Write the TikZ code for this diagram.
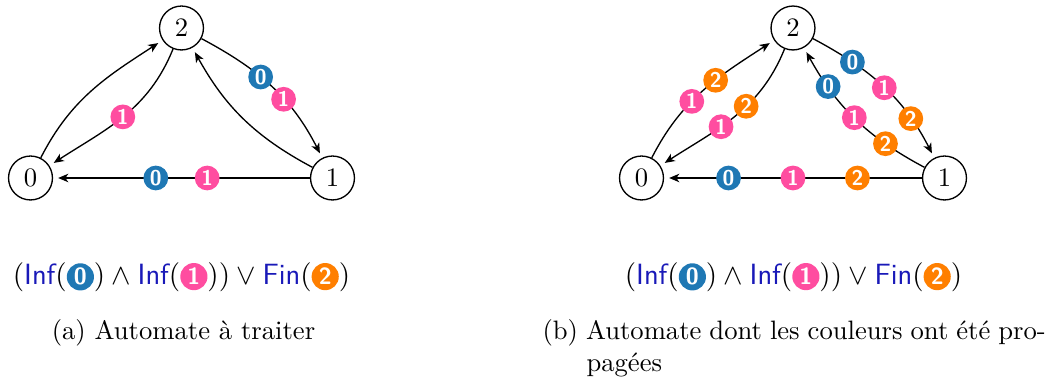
\documentclass[tikz,border=0pt]{standalone}
\usetikzlibrary{arrows.meta}
\definecolor{accblue}{HTML}{1F78B4}
\definecolor{accpink}{HTML}{FF4DA0}
\definecolor{accorange}{HTML}{FF7F00}
\definecolor{infblue}{rgb}{0.1,0.1,0.72}
\tikzset{
  state/.style={circle,draw,line width=0.5pt,minimum size=16.5pt,inner sep=0pt},
  accmark/.style={circle,inner sep=0pt,minimum size=9.3pt,text=white,font=\sffamily\bfseries\footnotesize},
  accform/.style={circle,inner sep=0pt,minimum size=10.2pt,text=white,font=\sffamily\bfseries\fontsize{8.8}{10}\selectfont},
  acczero/.style={accmark,fill=accblue},
  accone/.style={accmark,fill=accpink},
  acctwo/.style={accmark,fill=accorange},
  edge/.style={line width=0.5pt,-{Stealth[length=3.8pt,width=3.2pt,inset=1.1pt]},shorten >=1.9pt},
  formula/.style={anchor=base,inner sep=0pt,font=\fontsize{11}{13.6}\selectfont},
  captext/.style={inner sep=0pt},
}
\newcommand\accm[2]{\tikz[baseline=(m.base)]\node[accform,fill=#1](m){#2};}
\newcommand\infc[1]{\textcolor{infblue}{\textsf{#1}}}
\begin{document}
\begin{tikzpicture}[x=0.3755pt,y=-0.3755pt]
\useasboundingbox (0,0) rectangle (1050,383);
% left automaton
\node[state] (a0) at (30.5,178) {0};
\node[state] (a1) at (332.5,178) {1};
\node[state] (a2) at (181.5,28) {2};
\draw[edge] (a0) to[out=63,in=213] (a2);
\draw[edge] (a2) to[out=248,in=33] node[accone,pos=0.5]{1} (a0);
\draw[edge] (a2) to[out=332,in=117] node[acczero,pos=0.4]{0} node[accone,pos=0.6]{1} (a1);
\draw[edge] (a1) to[out=152,in=299] (a2);
\draw[edge] (a1) -- node[accone,pos=0.4]{1} node[acczero,pos=0.6]{0} (a0);
% right automaton
\node[state] (b0) at (641.5,178) {0};
\node[state] (b1) at (944.5,178) {1};
\node[state] (b2) at (793,28) {2};
\draw[edge] (b0) to[out=63,in=213] node[accone,pos=0.4]{1} node[acctwo,pos=0.6]{2} (b2);
\draw[edge] (b2) to[out=248,in=33] node[acctwo,pos=0.4]{2} node[accone,pos=0.6]{1} (b0);
\draw[edge] (b2) to[out=332,in=117] node[acczero,pos=0.25]{0} node[accone,pos=0.5]{1} node[acctwo,pos=0.75]{2} (b1);
\draw[edge] (b1) to[out=152,in=299] node[acctwo,pos=0.25]{2} node[accone,pos=0.5]{1} node[acczero,pos=0.75]{0} (b2);
\draw[edge] (b1) -- node[acctwo,pos=0.25]{2} node[accone,pos=0.5]{1} node[acczero,pos=0.75]{0} (b0);
% formulas
\node[formula] (fa) at (181.5,285) {$(\infc{Inf}(\accm{accblue}{0})\land\infc{Inf}(\accm{accpink}{1}))\lor\infc{Fin}(\accm{accorange}{2})$};
\node[formula] (fb) at (793.5,285) {$(\infc{Inf}(\accm{accblue}{0})\land\infc{Inf}(\accm{accpink}{1}))\lor\infc{Fin}(\accm{accorange}{2})$};
% captions
\node[captext,anchor=base] (ca) at (183.5,340) {(a) Automate à traiter};
\node[captext,anchor=base west] (cb) at (542,340) {\makebox[189pt][s]{(b) Automate dont les couleurs ont été pro-}};
\node[captext,anchor=base west] (cb2) at (586,372) {pagées};
\end{tikzpicture}
\end{document}
